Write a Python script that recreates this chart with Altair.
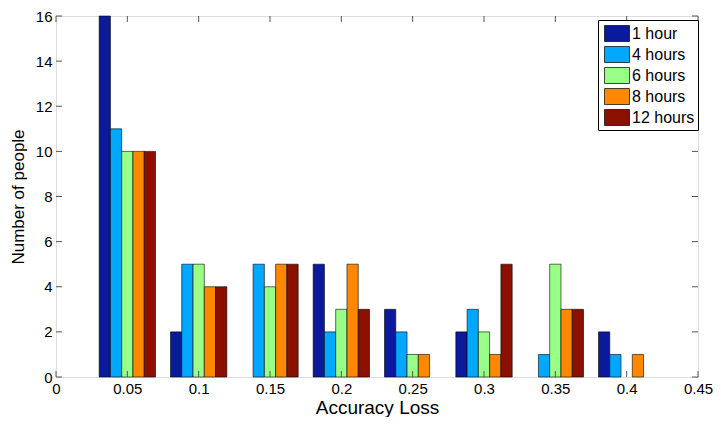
import altair as alt
import pandas as pd

losses = [0.05, 0.1, 0.15, 0.2, 0.25, 0.3, 0.35, 0.4]
series = ["1 hour", "4 hours", "6 hours", "8 hours", "12 hours"]
counts = {
    "1 hour":   [16, 2, 0, 5, 3, 2, 0, 2],
    "4 hours":  [11, 5, 5, 2, 2, 3, 1, 1],
    "6 hours":  [10, 5, 4, 3, 1, 2, 5, 0],
    "8 hours":  [10, 4, 5, 5, 1, 1, 3, 1],
    "12 hours": [10, 4, 5, 3, 0, 5, 3, 0],
}
colors = ["#0b1a9a", "#00a8ff", "#99ff88", "#ff8800", "#8b1000"]
x_ticks = [0, 0.05, 0.1, 0.15, 0.2, 0.25, 0.3, 0.35, 0.4, 0.45]
y_ticks = [0, 2, 4, 6, 8, 10, 12, 14, 16]

bar_w = 0.0079
rows = []
for i, s in enumerate(series):
    for loss, c in zip(losses, counts[s]):
        left = loss + (i - 2.5) * bar_w
        rows.append({"loss": loss, "series": s, "count": c, "base": 0,
                     "x0": left, "x1": left + bar_w})
df = pd.DataFrame(rows)

W, H = 642, 361
font = "Liberation Sans"

xs = alt.Scale(domain=[0, 0.45], nice=False, zero=False)
ys = alt.Scale(domain=[0, 16], nice=False)

bars = alt.Chart(df).transform_filter("datum.count > 0").mark_bar(
    stroke="black", strokeWidth=0.7, strokeOpacity=0.85).encode(
    x=alt.X("x0:Q", scale=xs,
            axis=alt.Axis(values=x_ticks, title="Accuracy Loss", format="~g",
                          labelFontSize=15, titleFontSize=19, titleFontWeight="normal",
                          labelFont=font, titleFont=font, tickSize=0, grid=False,
                          domain=False, labelPadding=4, titlePadding=2, labelColor="black",
                          titleColor="black", labelFlush=False, labelOverlap=False)),
    x2="x1:Q",
    y=alt.Y("count:Q", scale=ys,
            axis=alt.Axis(values=y_ticks, title="Number of people",
                          labelFontSize=15, titleFontSize=17, titleFontWeight="normal",
                          labelFont=font, titleFont=font, tickSize=0, grid=False,
                          domain=False, labelPadding=4, titlePadding=8, labelColor="black",
                          titleColor="black", labelFlush=False)),
    y2="base:Q",
    color=alt.Color("series:N", scale=alt.Scale(domain=series, range=colors),
                    legend=alt.Legend(title=None, orient="none", legendX=542, legendY=4,
                                      labelFontSize=16, labelFont=font, labelColor="black",
                                      symbolType="M-0.7,-0.8H1.8V0.8H-0.7Z", symbolSize=400,
                                      symbolStrokeColor="black", symbolStrokeWidth=0.7,
                                      symbolOpacity=1, strokeColor="black", fillColor="white",
                                      padding=3, rowPadding=1, labelOffset=10,
                                      labelLimit=200)),
)

ytick_df = pd.DataFrame({"v": y_ticks})
xtick_df = pd.DataFrame({"v": x_ticks})
tick_col = "#555555"
yl = alt.Chart(ytick_df).mark_rule(color=tick_col).encode(
    y=alt.Y("v:Q", scale=ys), x=alt.value(0), x2=alt.value(6))
yr = alt.Chart(ytick_df).mark_rule(color=tick_col).encode(
    y=alt.Y("v:Q", scale=ys), x=alt.value(W - 6), x2=alt.value(W))
xb = alt.Chart(xtick_df).mark_rule(color=tick_col).encode(
    x=alt.X("v:Q", scale=xs), y=alt.value(H), y2=alt.value(H - 6))
xt = alt.Chart(xtick_df).mark_rule(color=tick_col).encode(
    x=alt.X("v:Q", scale=xs), y=alt.value(0), y2=alt.value(6))

chart = alt.layer(bars, yl, yr, xb, xt).properties(
    width=W, height=H, autosize="none",
    padding={"left": 48, "top": 8, "right": 15, "bottom": 40},
).configure_view(stroke="black", strokeWidth=1).configure(background="white")

chart.save("out.html", embed_options={"renderer": "svg", "actions": False})
